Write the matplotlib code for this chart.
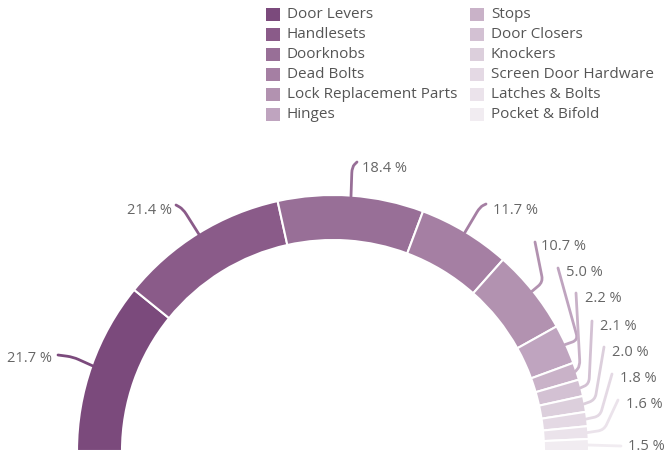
import matplotlib
matplotlib.use("Agg")
import matplotlib.pyplot as plt
from matplotlib.patches import Wedge, Rectangle, PathPatch
from matplotlib.path import Path
import numpy as np

plt.rcParams['font.family'] = ['Open Sans', 'DejaVu Sans']

categories = ["Door Levers", "Handlesets", "Doorknobs", "Dead Bolts",
              "Lock Replacement Parts", "Hinges", "Stops", "Door Closers",
              "Knockers", "Screen Door Hardware", "Latches & Bolts", "Pocket & Bifold"]
shares = [21.7, 21.4, 18.4, 11.7, 10.7, 5.0, 2.2, 2.1, 2.0, 1.8, 1.6, 1.5]

colors = ["#7b4a7c", "#8a5b89", "#986f97", "#a57fa3", "#b292b0", "#bfa4bf",
          "#c9b2c8", "#d3c1d3", "#dccfdc", "#e4d9e4", "#ebe3eb", "#f1ecf1"]

# layout in pixel space (y grows downward)
cx, cy = 333, 451
r_out, ring = 256, 45

# label text anchors (x, y, alignment), leader bend points and leader tips
label_pos = [(52, 358, "right"), (172, 211, "right"), (362, 168, "left"),
             (493, 210, "left"), (541, 247, "left"), (566, 273, "left"),
             (585, 299, "left"), (600, 326, "left"), (612, 352, "left"),
             (620, 379, "left"), (626, 405, "left"), (628, 447, "left")]
bends = [(73, 357), (183, 209), (352, 167), (480, 207), (543, 282), (578, 340),
         (580, 366), (589, 384), (595, 400), (600, 416), (604, 430), None]
tips = [(58, 355), (176, 205), (357, 162), (486, 204), (535, 242), (558, 268),
        (576, 293), (592, 321), (604, 347), (612, 374), (618, 400), (621, 446)]

fig = plt.figure(figsize=(6.65, 4.57), dpi=100)
ax = fig.add_axes([0, 0, 1, 1])
ax.set_xlim(0, 665)
ax.set_ylim(457, 0)
ax.axis("off")

total = sum(shares)
scale = 180.0 / total
start = 180.0
for i, v in enumerate(shares):
    end = start + v * scale
    ax.add_patch(Wedge((cx, cy), r_out, start, end, width=ring,
                       facecolor=colors[i], edgecolor="white", linewidth=1.5))
    mid = np.radians((start + end) / 2)
    sx = cx + (r_out - 1) * np.cos(mid)
    sy = cy + (r_out - 1) * np.sin(mid)

    # leader line with a rounded bend
    tx, ty = tips[i]
    if bends[i] is None:
        verts = [(sx, sy), (tx, ty)]
        codes = [Path.MOVETO, Path.LINETO]
    else:
        bx, by = bends[i]
        d = 6.0
        v1 = np.array([sx - bx, sy - by]); v1 = v1 / np.hypot(*v1)
        v2 = np.array([tx - bx, ty - by]); v2 = v2 / np.hypot(*v2)
        d1 = min(d, 0.5 * np.hypot(sx - bx, sy - by))
        d2 = min(d, 0.5 * np.hypot(tx - bx, ty - by))
        p1 = (bx + v1[0] * d1, by + v1[1] * d1)
        p2 = (bx + v2[0] * d2, by + v2[1] * d2)
        verts = [(sx, sy), p1, (bx, by), p2, (tx, ty)]
        codes = [Path.MOVETO, Path.LINETO, Path.CURVE3, Path.CURVE3, Path.LINETO]
    ax.add_patch(PathPatch(Path(verts, codes), facecolor="none",
                           edgecolor=colors[i], linewidth=2.0, capstyle="round"))

    lx, ly, ha = label_pos[i]
    ax.text(lx, ly, f"{v:.1f} %", ha=ha, va="center", fontsize=10.5, color="#666666")
    start = end

# legend, two columns of six
for i, name in enumerate(categories):
    col, row = divmod(i, 6)
    x0 = 266 + col * 204
    y0 = 14 + row * 20
    ax.add_patch(Rectangle((x0, y0 - 6.5), 14, 13, facecolor=colors[i], edgecolor="none"))
    ax.text(x0 + 21, y0, name, ha="left", va="center", fontsize=11, color="#555555")

fig.savefig("out.png", dpi=100, facecolor="white")
